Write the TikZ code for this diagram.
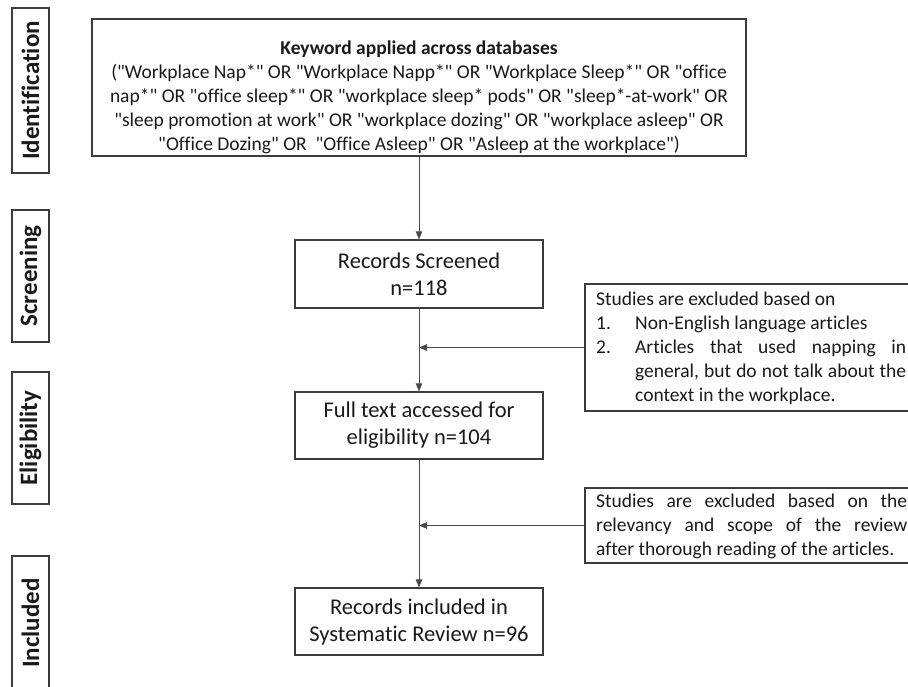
\documentclass[tikz,border=0pt]{standalone}
\usepackage{fontspec}
\setmainfont{Carlito}[Ligatures={TeXOff,NoCommon}]
\usetikzlibrary{arrows.meta}
\definecolor{edge}{HTML}{3C3C3C}
\definecolor{conn}{HTML}{4A4A4A}
\definecolor{ink}{HTML}{1A1A1A}
\begin{document}
\begin{tikzpicture}[x=1pt,y=-1pt,
  box/.style={draw=edge,line width=1.2pt,inner sep=0pt,rectangle},
  stage/.style={box,rotate=90,minimum height=37pt,text=ink,font=\bfseries\fontsize{25}{30}\selectfont},
  mainbox/.style={box,minimum width=248pt,minimum height=67pt,align=center,text=ink,font=\fontsize{22.5}{27}\selectfont},
  txt/.style={inner sep=0pt,text=ink,font=\fontsize{19.5}{24}\selectfont},
  arr/.style={draw=conn,line width=0.9pt,-{Triangle[length=8pt,width=6.5pt]}}]
\useasboundingbox (0,0) rectangle (908,687);
\fill[white] (0,0) rectangle (908,687);
% stage labels
\node[stage,minimum width=165pt] (sid) at (30.5,90.5) {Identification};
\node[stage,minimum width=132pt] (sscr) at (30.5,276) {Screening};
\node[stage,minimum width=132pt] (selig) at (30.5,438) {Eligibility};
\node[stage,minimum width=134pt] (sinc) at (30.5,623) {Included};
% top box
\node[box,minimum width=654pt,minimum height=137pt] (top) at (419,87.5) {};
\node[txt,align=center] (toptxt) at (419,97) {\textbf{Keyword applied across databases}\\
("Workplace Nap*" OR "Workplace Napp*" OR "Workplace Sleep*" OR "office\\
nap*" OR "office sleep*" OR "workplace sleep* pods" OR "sleep*-at-work" OR\\
"sleep promotion at work" OR "workplace dozing" OR "workplace asleep" OR\\
"Office Dozing" OR\ \ "Office Asleep" OR "Asleep at the workplace")};
% main boxes
\node[mainbox,minimum height=68pt] (scr) at (419,274) {Records Screened\\n=118};
\node[mainbox] (full) at (419,425.5) {Full text accessed for\\eligibility n=104};
\node[mainbox] (inc) at (419,621.5) {Records included in\\Systematic Review n=96};
% exclusion boxes
\node[box,minimum width=327pt,minimum height=127pt] (ex1) at (748.5,347.5) {};
\node[txt,align=left,anchor=west] (ex1txt) at (596,348) {Studies are excluded based on\\
\makebox[39pt][l]{1.}Non-English language articles\\
\makebox[39pt][l]{2.}\makebox[271pt][s]{Articles that used napping in}\\
\hspace*{39pt}\makebox[271pt][s]{general, but do not talk about the}\\
\hspace*{39pt}context in the workplace.};
\node[box,minimum width=327pt,minimum height=75pt] (ex2) at (748.5,525.5) {};
\node[txt,align=left,anchor=west] (ex2txt) at (596,526.5) {\makebox[311pt][s]{Studies are excluded based on the}\\
\makebox[311pt][s]{relevancy and scope of the review}\\
after thorough reading of the articles.};
% connectors
\draw[arr] (top.south) -- (scr.north);
\draw[arr] (scr.south) -- (full.north);
\draw[arr] (full.south) -- (inc.north);
\draw[arr] (ex1.west) -- (ex1.west -| scr.south);
\draw[arr] (ex2.west) -- (ex2.west -| full.south);
\end{tikzpicture}
\end{document}
